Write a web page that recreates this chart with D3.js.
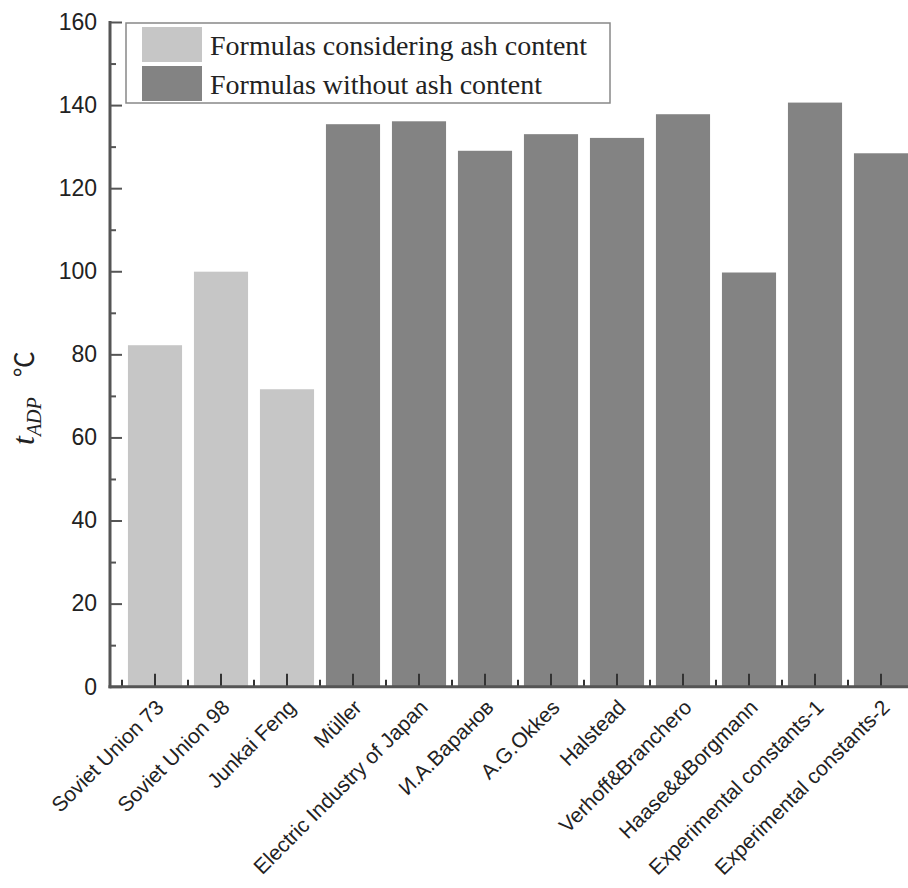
<!DOCTYPE html>
<html>
<head>
<meta charset="utf-8">
<script src="https://cdn.jsdelivr.net/npm/d3@7"></script>
<style>
  body { margin: 0; background: #fff; }
  svg { display: block; }
</style>
</head>
<body>
<svg width="908" height="888"></svg>
<script>
/* Data */
const names = ['Soviet Union 73', 'Soviet Union 98', 'Junkai Feng', 'Müller',
  'Electric Industry of Japan', 'И.А.Варанов', 'A.G.Okkes', 'Halstead',
  'Verhoff&Branchero', 'Haase&&Borgmann', 'Experimental constants-1', 'Experimental constants-2'];
const values = [82.2, 99.9, 71.6, 135.4, 136.1, 129.0, 133.0, 132.1, 137.8, 99.7, 140.6, 128.4];
const groups = ['ash', 'ash', 'ash', 'noash', 'noash', 'noash', 'noash', 'noash', 'noash', 'noash', 'noash', 'noash'];
const legendLabels = ['Formulas considering ash content', 'Formulas without ash content'];
const yTicks = [0, 20, 40, 60, 80, 100, 120, 140, 160];
const yMinorTicks = [10, 30, 50, 70, 90, 110, 130, 150];

const colors = { ash: '#c6c6c6', noash: '#838383' };
const axisColor = '#555';

const svg = d3.select('svg');

/* Scales */
const x = d3.scaleBand()
  .domain(names)
  .range([122, 914])
  .paddingInner(0.18)
  .paddingOuter(0.09);

const y = d3.scaleLinear()
  .domain([0, 160])
  .range([686.7, 22]);

/* Bars */
svg.append('g')
  .selectAll('rect').data(names)
  .enter().append('rect')
  .attr('x', d => x(d))
  .attr('width', x.bandwidth())
  .attr('y', (d, i) => y(values[i]))
  .attr('height', (d, i) => y(0) - y(values[i]))
  .attr('fill', (d, i) => colors[groups[i]]);

/* Y axis */
const yAxis = svg.append('g')
  .attr('transform', 'translate(110,0)')
  .call(d3.axisLeft(y).tickValues(yTicks).tickSize(-12).tickPadding(13));
yAxis.select('.domain').remove();
yAxis.selectAll('text')
  .attr('font-family', 'Liberation Sans, Arial, sans-serif')
  .attr('font-size', 23)
  .attr('fill', '#222');
yAxis.selectAll('line').attr('stroke', axisColor).attr('stroke-width', 2);

const yMinor = svg.append('g')
  .attr('transform', 'translate(110,0)')
  .call(d3.axisLeft(y).tickValues(yMinorTicks).tickSize(-6).tickFormat(''));
yMinor.select('.domain').remove();
yMinor.selectAll('line').attr('stroke', axisColor).attr('stroke-width', 2);

svg.append('line')
  .attr('x1', 110).attr('x2', 110)
  .attr('y1', y(160) - 1).attr('y2', y(0) + 1.5)
  .attr('stroke', axisColor).attr('stroke-width', 3);

/* X axis */
const xAxis = svg.append('g')
  .attr('transform', `translate(0,${y(0)})`)
  .call(d3.axisBottom(x).tickSize(-13).tickFormat(''));
xAxis.select('.domain').remove();
xAxis.selectAll('line').attr('stroke', '#333').attr('stroke-width', 2);

// minor ticks between bars
const bounds = names.map(d => x(d) - x.step() * x.paddingInner() / 2);
svg.append('g')
  .selectAll('line').data(bounds)
  .enter().append('line')
  .attr('x1', d => d).attr('x2', d => d)
  .attr('y1', y(0)).attr('y2', y(0) - 7)
  .attr('stroke', '#333').attr('stroke-width', 2);

svg.append('line')
  .attr('x1', 108.5).attr('x2', 908)
  .attr('y1', y(0)).attr('y2', y(0))
  .attr('stroke', axisColor).attr('stroke-width', 3);

svg.append('g')
  .selectAll('text').data(names)
  .enter().append('text')
  .attr('transform', d => `translate(${x(d) + x.bandwidth() / 2 + 10},${y(0) + 22}) rotate(-45)`)
  .attr('text-anchor', 'end')
  .attr('font-family', 'Liberation Sans, Arial, sans-serif')
  .attr('font-size', 21)
  .attr('fill', '#222')
  .text(d => d);

/* Y title */
const title = svg.append('text')
  .attr('transform', 'translate(34,445) rotate(-90)')
  .attr('font-family', 'Liberation Serif, Times New Roman, serif')
  .attr('font-size', 32)
  .attr('fill', '#222');
title.append('tspan').attr('font-style', 'italic').text('t');
title.append('tspan').attr('font-style', 'italic').attr('font-size', 20).attr('dy', 7).text('ADP');
title.append('tspan')
  .attr('dy', -7).attr('dx', 20)
  .attr('font-family', 'Noto Sans CJK SC, sans-serif')
  .attr('font-size', 26)
  .text('℃');

/* Legend */
const legend = svg.append('g');
legend.append('rect')
  .attr('x', 126).attr('y', 23)
  .attr('width', 484).attr('height', 80)
  .attr('fill', '#fff')
  .attr('stroke', '#888').attr('stroke-width', 1.5);

const legendColors = [colors.ash, colors.noash];
legend.selectAll('.swatch').data(legendLabels)
  .enter().append('rect')
  .attr('class', 'swatch')
  .attr('x', 142)
  .attr('y', (d, i) => 27 + i * 39)
  .attr('width', 60).attr('height', 35)
  .attr('fill', (d, i) => legendColors[i]);

legend.selectAll('.label').data(legendLabels)
  .enter().append('text')
  .attr('class', 'label')
  .attr('x', 210)
  .attr('y', (d, i) => 55 + i * 39)
  .attr('font-family', 'Liberation Serif, Times New Roman, serif')
  .attr('font-size', 28)
  .attr('fill', '#222')
  .text(d => d);
</script>
</body>
</html>
